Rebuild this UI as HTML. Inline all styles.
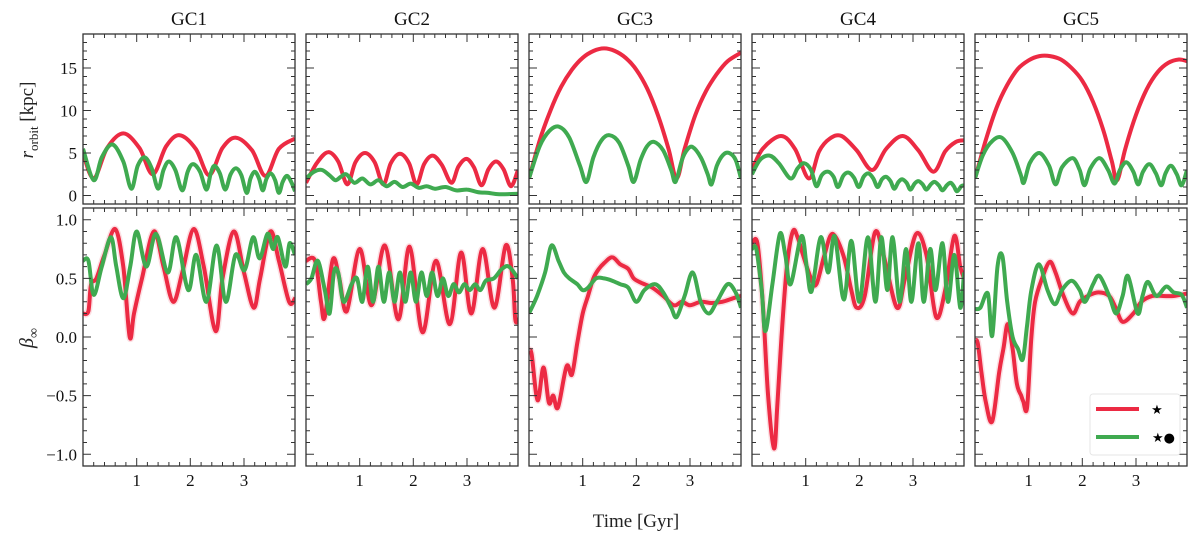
<!DOCTYPE html>
<html><head><meta charset="utf-8"><style>
html,body{margin:0;padding:0;background:#fff;}
svg{display:block;font-family:"Liberation Serif","DejaVu Serif",serif;}
</style></head><body>
<svg id="fig" width="1200" height="541" viewBox="0 0 1200 541"></svg>
<script>
// ---- data (time in Gyr, value) ----
const panelNames = ["GC1","GC2","GC3","GC4","GC5"];
const xTicks = [1,2,3];
const rTickLabels = [0,5,10,15];
const bTickLabels = [-1.0,-0.5,0.0,0.5,1.0];

const rRed1 = [[0,5],[0.2,2],[0.45,5.6],[0.75,7.3],[1.05,5.6],[1.3,2.5],[1.55,5.8],[1.8,7.1],[2.1,5.5],[2.35,2.4],[2.6,5.6],[2.85,6.8],[3.15,5.3],[3.4,2.3],[3.65,5.5],[3.95,6.7]];
const rGrn1 = [[0,5.5],[0.2,1.8],[0.35,4.5],[0.55,6],[0.75,4],[0.9,0.8],[1.02,3.5],[1.15,4.5],[1.28,3.2],[1.4,0.8],[1.5,3],[1.6,4],[1.72,3],[1.85,0.6],[1.95,2.8],[2.05,3.7],[2.18,2.8],[2.3,0.7],[2.38,2.6],[2.45,3.5],[2.55,2.6],[2.65,0.7],[2.75,2.5],[2.85,3.2],[2.95,2.4],[3.05,0.3],[3.12,2],[3.2,2.8],[3.28,2],[3.35,0.6],[3.42,2],[3.5,2.6],[3.58,1.8],[3.65,0.3],[3.72,1.6],[3.8,2.3],[3.88,1.6],[3.95,0.5]];
const rRed2 = [[0,1.5],[0.2,3.8],[0.41,5.1],[0.6,4],[0.77,1.3],[0.92,3.9],[1.1,5.0],[1.28,3.9],[1.44,1.3],[1.58,3.8],[1.75,4.9],[1.92,3.8],[2.06,1.3],[2.2,3.7],[2.36,4.7],[2.53,3.6],[2.71,1.5],[2.84,3.4],[2.99,4.3],[3.13,3.3],[3.27,1.2],[3.4,3.1],[3.54,4.0],[3.68,3.1],[3.82,1.1],[3.95,3.0]];
const rGrn2 = [[0,2],[0.15,2.8],[0.3,3],[0.45,2.3],[0.55,1.8],[0.65,2.2],[0.75,2.5],[0.9,1.5],[1.05,2.0],[1.2,1.3],[1.35,1.8],[1.5,1.1],[1.65,1.6],[1.8,1.0],[1.95,1.4],[2.1,0.9],[2.25,1.1],[2.4,0.8],[2.6,1.0],[2.8,0.6],[3.0,0.7],[3.2,0.4],[3.4,0.3],[3.6,0.15],[3.95,0.2]];
const rRed3 = [[0,2],[0.2,6.5],[0.4,10],[0.6,12.8],[0.8,14.8],[1.0,16.2],[1.2,17.0],[1.4,17.3],[1.6,17.0],[1.8,16.2],[2.0,14.8],[2.2,12.6],[2.4,9.5],[2.6,5.5],[2.75,2],[2.9,5.5],[3.1,9.5],[3.3,12.3],[3.5,14.3],[3.7,15.8],[3.95,16.8]];
const rGrn3 = [[0,2],[0.2,5.8],[0.38,7.6],[0.56,8.1],[0.75,6.8],[0.95,3.5],[1.07,1.6],[1.2,4.5],[1.35,6.5],[1.5,7.1],[1.68,6.2],[1.85,3.5],[1.95,1.6],[2.08,4.2],[2.2,5.8],[2.33,6.3],[2.5,5.3],[2.65,3],[2.73,1.6],[2.85,4.2],[2.95,5.4],[3.05,5.7],[3.2,4.5],[3.33,2.5],[3.4,1.3],[3.5,3.5],[3.62,4.8],[3.73,5.0],[3.85,4.2],[3.95,2]];
const rRed4 = [[0,3],[0.2,5.5],[0.54,7.0],[0.8,5.5],[1.06,2.0],[1.25,5.2],[1.45,6.7],[1.67,7.0],[1.95,5.3],[2.24,3.0],[2.5,5.5],[2.81,7.0],[3.1,5.3],[3.38,2.8],[3.6,5.2],[3.8,6.3],[3.96,6.5]];
const rGrn4 = [[0,2.5],[0.15,4.2],[0.33,4.7],[0.5,3.8],[0.72,2.0],[0.85,3.2],[0.97,3.8],[1.1,3],[1.2,1.1],[1.3,2.4],[1.42,2.8],[1.52,2.2],[1.6,1.0],[1.7,2.3],[1.8,2.7],[1.9,2.1],[1.99,1.0],[2.08,2.2],[2.17,2.6],[2.26,2.0],[2.34,1.0],[2.42,1.9],[2.5,2.2],[2.58,1.7],[2.65,0.8],[2.73,1.6],[2.8,1.9],[2.88,1.5],[2.95,0.7],[3.03,1.4],[3.1,1.7],[3.18,1.3],[3.25,0.7],[3.33,1.3],[3.4,1.6],[3.48,1.2],[3.55,0.6],[3.63,1.2],[3.7,1.5],[3.76,1.1],[3.82,0.5],[3.9,1.1],[3.95,1.2]];
const rRed5 = [[0,2],[0.2,6.5],[0.4,10.3],[0.6,13],[0.8,14.9],[1.0,15.9],[1.2,16.4],[1.4,16.4],[1.6,16.0],[1.8,15.0],[2.0,13.5],[2.2,11],[2.4,7.5],[2.55,4],[2.65,1.8],[2.8,5.5],[3.0,9.5],[3.2,12.5],[3.4,14.5],[3.6,15.6],[3.8,16.0],[3.95,15.8]];
const rGrn5 = [[0,2],[0.15,4.8],[0.32,6.4],[0.5,6.8],[0.7,5],[0.85,2.5],[0.91,1.5],[1.02,3.8],[1.2,5.0],[1.38,3.5],[1.5,1.3],[1.62,3.3],[1.82,4.4],[1.95,3],[2.04,1.2],[2.15,3.2],[2.32,4.4],[2.48,3],[2.6,1.4],[2.7,3],[2.82,3.9],[2.95,2.8],[3.04,1.3],[3.13,2.8],[3.25,3.7],[3.37,2.6],[3.47,1.2],[3.55,2.6],[3.65,3.5],[3.76,2.5],[3.85,1.2],[3.95,3]];

const bRed1 = [[0,0.2],[0.1,0.22],[0.15,0.45],[0.25,0.5],[0.4,0.7],[0.6,0.92],[0.75,0.6],[0.87,0.0],[0.95,0.2],[1.1,0.5],[1.32,0.9],[1.5,0.6],[1.68,0.3],[1.85,0.55],[2.06,0.92],[2.25,0.6],[2.47,0.05],[2.6,0.5],[2.81,0.9],[3.0,0.55],[3.18,0.25],[3.3,0.5],[3.49,0.9],[3.65,0.65],[3.84,0.3],[3.95,0.33]];
const bGrn1 = [[0,0.65],[0.1,0.65],[0.2,0.36],[0.35,0.6],[0.52,0.85],[0.62,0.6],[0.75,0.33],[0.88,0.6],[1.0,0.9],[1.18,0.6],[1.36,0.88],[1.58,0.55],[1.74,0.85],[1.96,0.4],[2.11,0.7],[2.3,0.3],[2.49,0.78],[2.66,0.3],[2.84,0.7],[3.01,0.57],[3.17,0.85],[3.29,0.67],[3.44,0.88],[3.54,0.75],[3.63,0.85],[3.77,0.6],[3.85,0.8],[3.95,0.7]];
const bRed2 = [[0,0.65],[0.17,0.65],[0.28,0.3],[0.35,0.17],[0.5,0.66],[0.62,0.5],[0.76,0.22],[1.0,0.75],[1.22,0.27],[1.47,0.78],[1.72,0.15],[1.93,0.77],[2.17,0.04],[2.42,0.65],[2.68,0.11],[2.89,0.72],[3.08,0.2],[3.29,0.75],[3.51,0.25],[3.72,0.78],[3.85,0.5],[3.9,0.15],[3.95,0.15]];
const bGrn2 = [[0,0.45],[0.1,0.5],[0.22,0.65],[0.35,0.4],[0.44,0.2],[0.52,0.55],[0.6,0.55],[0.7,0.3],[0.85,0.45],[0.95,0.5],[1.05,0.3],[1.15,0.6],[1.25,0.3],[1.35,0.6],[1.45,0.3],[1.55,0.55],[1.65,0.3],[1.75,0.55],[1.85,0.3],[1.95,0.55],[2.05,0.3],[2.15,0.55],[2.25,0.35],[2.35,0.55],[2.45,0.35],[2.55,0.5],[2.65,0.35],[2.75,0.45],[2.85,0.38],[2.95,0.45],[3.05,0.4],[3.15,0.45],[3.25,0.4],[3.35,0.48],[3.5,0.5],[3.65,0.58],[3.78,0.6],[3.95,0.5]];
const bRed3 = [[0,-0.12],[0.05,-0.15],[0.16,-0.54],[0.27,-0.26],[0.37,-0.56],[0.45,-0.5],[0.54,-0.6],[0.7,-0.25],[0.8,-0.32],[0.9,-0.05],[1.0,0.2],[1.1,0.35],[1.2,0.5],[1.3,0.58],[1.4,0.63],[1.55,0.68],[1.7,0.62],[1.85,0.58],[1.95,0.5],[2.1,0.46],[2.3,0.42],[2.5,0.35],[2.7,0.27],[2.85,0.3],[3.0,0.27],[3.2,0.3],[3.4,0.29],[3.6,0.3],[3.8,0.33],[3.95,0.35]];
const bGrn3 = [[0,0.2],[0.15,0.35],[0.3,0.55],[0.42,0.78],[0.55,0.65],[0.65,0.55],[0.75,0.5],[0.9,0.45],[1.0,0.4],[1.1,0.42],[1.25,0.5],[1.4,0.5],[1.55,0.48],[1.7,0.45],[1.85,0.42],[2.0,0.3],[2.15,0.4],[2.35,0.45],[2.5,0.38],[2.65,0.25],[2.75,0.17],[2.9,0.35],[3.05,0.55],[3.2,0.3],[3.35,0.2],[3.5,0.3],[3.7,0.45],[3.85,0.38],[3.95,0.25]];
const bRed4 = [[0,0.8],[0.1,0.8],[0.2,0.3],[0.3,-0.5],[0.41,-0.95],[0.47,-0.6],[0.55,0.0],[0.65,0.6],[0.76,0.9],[0.85,0.85],[0.95,0.7],[1.1,0.5],[1.2,0.45],[1.35,0.7],[1.5,0.88],[1.7,0.7],[1.85,0.4],[1.95,0.25],[2.1,0.35],[2.29,0.89],[2.45,0.7],[2.7,0.25],[2.85,0.5],[3.06,0.88],[3.25,0.7],[3.43,0.17],[3.6,0.4],[3.77,0.86],[3.88,0.6],[3.95,0.5]];
const bGrn4 = [[0,0.75],[0.08,0.75],[0.18,0.4],[0.25,0.05],[0.38,0.45],[0.52,0.88],[0.62,0.7],[0.72,0.45],[0.92,0.86],[1.02,0.6],[1.11,0.39],[1.28,0.85],[1.42,0.55],[1.54,0.86],[1.71,0.32],[1.85,0.82],[2.0,0.3],[2.16,0.85],[2.3,0.3],[2.41,0.85],[2.52,0.4],[2.62,0.85],[2.75,0.3],[2.87,0.75],[2.97,0.3],[3.1,0.8],[3.2,0.3],[3.32,0.75],[3.42,0.4],[3.55,0.8],[3.65,0.3],[3.77,0.7],[3.88,0.25],[3.95,0.55]];
const bRed5 = [[0,-0.03],[0.05,-0.05],[0.12,-0.3],[0.2,-0.55],[0.32,-0.72],[0.45,-0.3],[0.53,-0.1],[0.61,0.11],[0.7,-0.1],[0.78,-0.4],[0.86,-0.5],[0.9,-0.55],[0.97,-0.6],[1.05,0.0],[1.12,0.3],[1.25,0.5],[1.39,0.64],[1.5,0.55],[1.65,0.35],[1.82,0.2],[1.95,0.3],[2.1,0.35],[2.3,0.38],[2.5,0.35],[2.62,0.25],[2.75,0.13],[2.95,0.2],[3.1,0.3],[3.3,0.35],[3.5,0.35],[3.7,0.35],[3.95,0.37]];
const bGrn5 = [[0,0.24],[0.1,0.25],[0.24,0.37],[0.32,0.01],[0.42,0.6],[0.51,0.69],[0.6,0.3],[0.7,0.0],[0.8,-0.1],[0.89,-0.19],[0.97,0.1],[1.05,0.4],[1.19,0.62],[1.35,0.4],[1.49,0.28],[1.62,0.4],[1.8,0.48],[1.95,0.4],[2.05,0.3],[2.2,0.45],[2.32,0.52],[2.5,0.35],[2.63,0.2],[2.75,0.35],[2.85,0.52],[3.03,0.2],[3.12,0.35],[3.22,0.47],[3.38,0.35],[3.56,0.43],[3.7,0.38],[3.85,0.36],[3.95,0.25]];

const topRed = [rRed1,rRed2,rRed3,rRed4,rRed5];
const topGrn = [rGrn1,rGrn2,rGrn3,rGrn4,rGrn5];
const botRed = [bRed1,bRed2,bRed3,bRed4,bRed5];
const botGrn = [bGrn1,bGrn2,bGrn3,bGrn4,bGrn5];

// ---- layout ----
const NS="http://www.w3.org/2000/svg";
const svg=document.getElementById('fig');
const PL=[83,306,529,752,975], PW=212;
const TOP={y0:34,y1:204,min:-1,max:19};
const BOT={y0:208,y1:466,min:-1.1,max:1.1};
const XMIN=0, XMAX=3.95;
const RED="#ec2a43", GRN="#3faa50", AX="#333";
function el(tag,attrs,parent){const e=document.createElementNS(NS,tag);for(const k in attrs)e.setAttribute(k,attrs[k]);(parent||svg).appendChild(e);return e;}
function xs(i,t){return PL[i]+(t-XMIN)/(XMAX-XMIN)*PW;}
function ys(r,v){return r.y1-(v-r.min)/(r.max-r.min)*(r.y1-r.y0);}
function pathFor(i,r,data){
  const p=data.map(d=>[xs(i,d[0]),ys(r,d[1])]);
  let s="M"+p[0][0].toFixed(1)+","+p[0][1].toFixed(1);
  for(let k=0;k<p.length-1;k++){
    const p0=p[Math.max(0,k-1)],p1=p[k],p2=p[k+1],p3=p[Math.min(p.length-1,k+2)];
    const c1=[p1[0]+(p2[0]-p0[0])/6,p1[1]+(p2[1]-p0[1])/6];
    const c2=[p2[0]-(p3[0]-p1[0])/6,p2[1]-(p3[1]-p1[1])/6];
    s+="C"+c1[0].toFixed(1)+","+c1[1].toFixed(1)+" "+c2[0].toFixed(1)+","+c2[1].toFixed(1)+" "+p2[0].toFixed(1)+","+p2[1].toFixed(1);
  }
  return s;
}
const defs=el('defs',{});
function panel(i,r,row,redData,grnData,majors,minorStep,labels){
  const g=el('g',{});
  
  
  const cid='clip'+row+i;
  const cp=el('clipPath',{id:cid},defs);
  el('rect',{x:PL[i],y:r.y0,width:PW,height:r.y1-r.y0},cp);
  const lg=el('g',{'clip-path':'url(#'+cid+')'},g);
  if(row==='beta'){
    const band=el('path',{d:pathFor(i,r,redData),fill:'none',stroke:RED,'stroke-opacity':0.15,'stroke-width':7,'stroke-linejoin':'round'},lg);
    
    
  }
  const rp=el('path',{d:pathFor(i,r,redData),fill:'none',stroke:RED,'stroke-width':4,'stroke-linejoin':'round'},lg);
  
  
  const gp=el('path',{d:pathFor(i,r,grnData),fill:'none',stroke:GRN,'stroke-width':4,'stroke-linejoin':'round'},lg);
  
  
  const L=PL[i],R=PL[i]+PW;
  let t="";
  for(let v=Math.ceil(r.min/minorStep)*minorStep;v<=r.max+1e-9;v+=minorStep){
    const y=ys(r,v).toFixed(1);
    const maj=majors.some(m=>Math.abs(m-v)<1e-6);
    const len=maj?8:4;
    t+=`M${L},${y}h${len}M${R},${y}h${-len}`;
  }
  for(let v=0.2;v<XMAX;v+=0.2){
    const x=xs(i,v).toFixed(1);
    const maj=Math.abs(v-Math.round(v))<1e-6;
    const len=maj?8:4;
    t+=`M${x},${r.y1}v${-len}M${x},${r.y0}v${len}`;
  }
  el('path',{d:t,stroke:AX,'stroke-width':1,fill:'none'},g);
  const frame=el('rect',{x:L,y:r.y0,width:PW,height:r.y1-r.y0,fill:'none',stroke:AX,'stroke-width':1.3},g);
  
  
  if(i===0){
    labels.forEach(v=>{
      const tx=el('text',{x:L-6,y:ys(r,v)+6,'text-anchor':'end','font-size':17,fill:'#111'},g);
      tx.textContent=(row==='beta'?(v<0?'\u2212'+Math.abs(v).toFixed(1):v.toFixed(1)):String(v));
      
      
    });
  }
}
for(let i=0;i<5;i++){
  panel(i,TOP,'r',topRed[i],topGrn[i],rTickLabels,1,rTickLabels);
  panel(i,BOT,'beta',botRed[i],botGrn[i],bTickLabels,0.1,bTickLabels);
  const ti=el('text',{x:PL[i]+PW/2,y:25,'text-anchor':'middle','font-size':19,fill:'#111'});
  ti.textContent=panelNames[i];
  
  
  xTicks.forEach(v=>{
    const tx=el('text',{x:xs(i,v),y:486,'text-anchor':'middle','font-size':17,fill:'#111'});
    tx.textContent=String(v);
    
    
  });
}
const xt=el('text',{x:636,y:527,'text-anchor':'middle','font-size':19,fill:'#222'});
xt.textContent="Time [Gyr]";


const yt1=el('text',{transform:'translate(33,120) rotate(-90)','text-anchor':'middle','font-size':19,fill:'#222'});
yt1.innerHTML='<tspan font-style="italic">r</tspan><tspan font-size="13" dy="5">orbit</tspan><tspan dy="-5"> [kpc]</tspan>';


const yt2=el('text',{transform:'translate(33,338) rotate(-90)','text-anchor':'middle','font-size':20,fill:'#222'});
yt2.innerHTML='<tspan font-style="italic">\u03B2</tspan><tspan font-size="14" dy="5">\u221E</tspan>';


const lg=el('g',{});


el('rect',{x:1090,y:394,width:90,height:61,rx:3,fill:'#fff',stroke:'#e6e6e6','stroke-width':1},lg);
const l1=el('line',{x1:1096,y1:409,x2:1139,y2:409,stroke:RED,'stroke-width':4},lg);


const l2=el('line',{x1:1096,y1:437,x2:1139,y2:437,stroke:GRN,'stroke-width':4},lg);


const s1=el('text',{x:1157,y:414,'text-anchor':'middle','font-size':13,fill:'#000',"font-family":"DejaVu Sans, sans-serif"},lg);
s1.textContent="\u2605";
const s2=el('text',{x:1152,y:442,'font-size':13,fill:'#000',"font-family":"DejaVu Sans, sans-serif"},lg);
s2.textContent="\u2605\u25CF";
</script>
</body></html>
